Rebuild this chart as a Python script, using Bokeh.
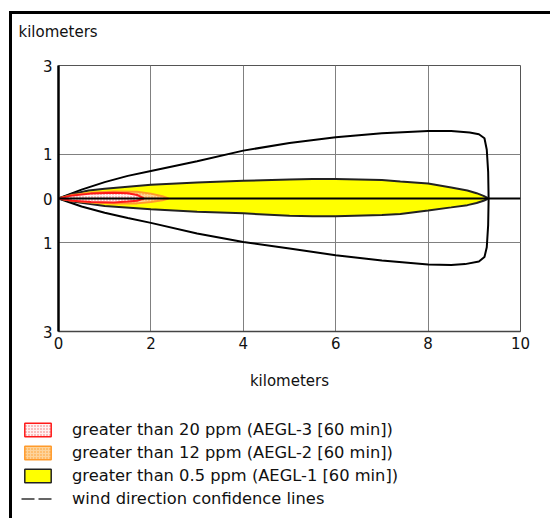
import numpy as np
from bokeh.plotting import figure
from bokeh.layouts import column, row
from bokeh.models import (Legend, LegendItem, Label, FixedTicker)
from bokeh.embed import file_html
from bokeh.resources import INLINE

# ---- data (kilometers) ----
x_ticks = [0, 2, 4, 6, 8, 10]
y_ticks = [-3, -1, 0, 1, 3]
y_tick_labels = {-3: "3", -1: "1", 0: "0", 1: "1", 3: "3"}

conf_x = [0, 0.5, 1, 1.5, 2, 3, 4, 5, 6, 7, 8, 8.5, 8.9, 9.1, 9.22, 9.27, 9.3, 9.31,
          9.3, 9.27, 9.22, 9.1, 8.8, 8.5, 8, 7, 6, 5, 4, 3, 2, 1.5, 1, 0.5, 0]
conf_y = [0, 0.2, 0.37, 0.51, 0.62, 0.84, 1.08, 1.25, 1.38, 1.47, 1.52, 1.52, 1.49, 1.45,
          1.36, 1.1, 0.6, 0.0, -0.6, -1.1, -1.32, -1.42, -1.48, -1.5, -1.49, -1.4, -1.28,
          -1.13, -0.98, -0.79, -0.55, -0.44, -0.32, -0.18, 0]

aegl1_x = [0, 0.3, 0.65, 1, 2, 3, 4, 5, 5.5, 6, 7, 7.4, 8, 8.5, 8.85, 9.05, 9.2, 9.31,
           9.2, 9.05, 8.85, 8.5, 8, 7.4, 7, 6, 5.5, 5, 4, 3, 2, 1, 0.65, 0.3, 0]
aegl1_y = [0, 0.1, 0.18, 0.22, 0.31, 0.36, 0.40, 0.43, 0.44, 0.44, 0.42, 0.385, 0.34, 0.25,
           0.18, 0.12, 0.06, 0.0, -0.05, -0.1, -0.15, -0.2, -0.27, -0.35, -0.37, -0.40,
           -0.40, -0.39, -0.335, -0.3, -0.24, -0.17, -0.12, -0.07, 0]

aegl2_x = [0, 0.3, 0.7, 1.2, 1.7, 2.0, 2.25, 2.38, 2.25, 2.0, 1.7, 1.2, 0.7, 0.3, 0]
aegl2_y = [0, 0.08, 0.13, 0.16, 0.15, 0.11, 0.05, 0.0, -0.04, -0.08, -0.11, -0.11, -0.09, -0.05, 0]

aegl3_x = [0, 0.3, 0.7, 1.2, 1.5, 1.7, 1.85, 1.7, 1.5, 1.2, 0.7, 0.3, 0]
aegl3_y = [0, 0.07, 0.11, 0.13, 0.12, 0.08, 0.0, -0.05, -0.07, -0.09, -0.08, -0.05, 0]

center_x = [0, 10]
center_y = [0, 0]

legend_labels = ["greater than 20 ppm (AEGL-3 [60 min])",
                 "greater than 12 ppm (AEGL-2 [60 min])",
                 "greater than 0.5 ppm (AEGL-1 [60 min])",
                 "wind direction confidence lines"]
axis_title = "kilometers"

FONT = "DejaVu Sans"

S_AEGL1 = dict(fill_color="#ffff00", line_color="#222222")
S_AEGL2 = dict(fill_color="#fdd39a", line_color="#ff9a2a",
               hatch_pattern="dot", hatch_color="#ff9a2a", hatch_scale=3, hatch_weight=1)
S_AEGL3 = dict(fill_color="#fff2f2", line_color="#ff1a1a",
               hatch_pattern="dot", hatch_color="#f07070", hatch_scale=3, hatch_weight=1)

W = 538  # page offset (12, 14) from the CSS border of the column

def blank(h):
    f = figure(width=W, height=h, x_range=(0, W), y_range=(0, h),
               output_backend="svg", toolbar_location=None, title=None,
               min_border=0, min_border_left=0, min_border_right=0,
               min_border_top=0, min_border_bottom=0,
               x_axis_type=None, y_axis_type=None,
               background_fill_color="white", border_fill_color="white")
    f.outline_line_color = None
    f.grid.visible = False
    try:
        f.frame_align = False
    except Exception:
        pass
    return f

# ---- top strip: vertical axis unit ----
H0 = 37
r = blank(H0)
r.add_layout(Label(x=6, y=H0 - 17, text=axis_title, text_font=FONT,
                   text_font_size="15px", text_color="#111111",
                   text_baseline="alphabetic", text_align="left"))

# ---- main figure ----
H1 = 363
L, R, T, B = 46, 30, 14, 83
p = figure(width=W, height=H1, x_range=(0, 10), y_range=(-3, 3),
           output_backend="svg", toolbar_location=None, title=None,
           min_border_left=L, min_border_right=R, min_border_top=T, min_border_bottom=B,
           background_fill_color="white", border_fill_color="white")

p.outline_line_color = "#555555"
p.outline_line_width = 1

p.xaxis.ticker = FixedTicker(ticks=x_ticks)
p.yaxis.ticker = FixedTicker(ticks=y_ticks)
p.yaxis.major_label_overrides = y_tick_labels
p.xgrid.ticker = FixedTicker(ticks=x_ticks)
p.ygrid.ticker = FixedTicker(ticks=[-1, 1])
for g in (p.xgrid, p.ygrid):
    g.grid_line_color = "#808080"
    g.grid_line_width = 1

for ax in (p.xaxis, p.yaxis):
    ax.major_tick_line_color = None
    ax.minor_tick_line_color = None
    ax.major_tick_out = 0
    ax.major_tick_in = 0
    ax.major_label_text_font = FONT
    ax.major_label_text_font_size = "15px"
    ax.major_label_text_color = "#111111"

p.yaxis.axis_line_color = "black"
p.yaxis.axis_line_width = 2.5
p.yaxis.major_label_standoff = 6
p.xaxis.axis_line_color = "#444444"
p.xaxis.axis_line_width = 1.5
p.xaxis.major_label_standoff = 5
p.xaxis.axis_label = axis_title
p.xaxis.axis_label_text_font = FONT
p.xaxis.axis_label_text_font_size = "15px"
p.xaxis.axis_label_text_font_style = "normal"
p.xaxis.axis_label_text_color = "#111111"
p.xaxis.axis_label_standoff = 20

p.line(conf_x, conf_y, line_color="black", line_width=2)
p.patch(aegl1_x, aegl1_y, line_width=2, **S_AEGL1)
p.patch(aegl2_x, aegl2_y, line_width=2, **S_AEGL2)
p.patch(aegl3_x, aegl3_y, line_width=2, **S_AEGL3)
p.line(center_x, center_y, line_color="black", line_width=2)

# ---- legend strip ----
H2 = 104
q = blank(H2)
nan = [np.nan]
k3 = q.patch(nan, nan, line_width=1.5, **S_AEGL3)
k2 = q.patch(nan, nan, line_width=1.5, **S_AEGL2)
k1 = q.patch(nan, nan, line_width=1.5, **S_AEGL1)
kd = q.line(nan, nan, line_color="#333333", line_width=1.5, line_dash="13 4")

legend = Legend(items=[LegendItem(label=legend_labels[0], renderers=[k3]),
                       LegendItem(label=legend_labels[1], renderers=[k2]),
                       LegendItem(label=legend_labels[2], renderers=[k1]),
                       LegendItem(label=legend_labels[3], renderers=[kd])],
                location=(9, 10.5),
                glyph_width=33, glyph_height=17, label_height=17, spacing=4,
                padding=0, margin=0, label_standoff=18,
                border_line_color=None, background_fill_alpha=0,
                label_text_font=FONT, label_text_font_size="16.3px",
                label_text_color="#111111")
q.add_layout(legend, "center")

layout = column(row(r), p, row(q), spacing=0,
                styles={"border-left": "3px solid black", "border-top": "3px solid black",
                        "margin-left": "9px", "margin-top": "11px"})

open("out.html", "w").write(file_html(layout, INLINE))
